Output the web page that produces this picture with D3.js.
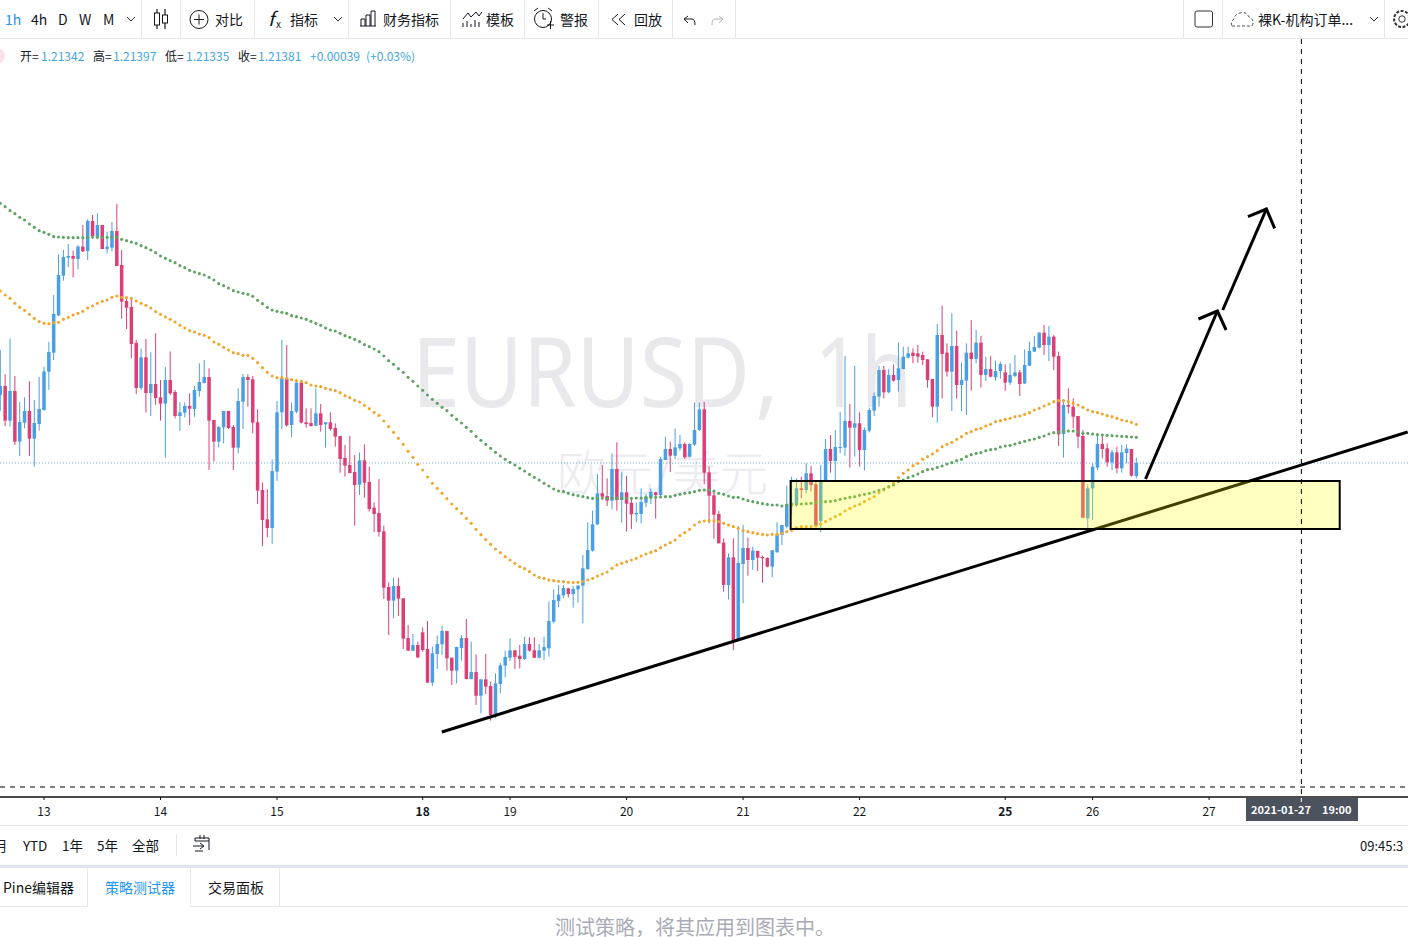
<!DOCTYPE html>
<html><head><meta charset="utf-8">
<script src="https://cdn.jsdelivr.net/npm/d3@7"></script>
<style>
html,body{margin:0;padding:0;background:#fff;overflow:hidden}
svg{display:block}
text{font-family:"Noto Sans CJK SC","Noto Sans",sans-serif}
</style></head><body>
<svg id="c" width="1408" height="937"></svg>
<script>
// Candle rows are [open, high, low, close] in points above 1.20000 (1 point = 0.00001).
const basePrice = 1.2, pointSize = 0.00001;
const jan12 = [[1585,1720,1538,1612],[1612,1647,1492,1508],[1508,1755,1490,1597],[1597,1642,1435,1445],[1445,1564,1402,1504],[1502,1578,1485,1537],[1537,1626,1402,1454],[1454,1570,1370,1501],[1498,1639,1478,1543]];
const jan13 = [[1540,1670,1538,1656],[1655,1744,1600,1714],[1712,1885,1690,1828],[1824,2007,1822,1945],[1943,2020,1928,1999],[1997,2038,1968,2002],[2002,2018,1938,1994],[1993,2035,1962,2030],[2030,2095,2014,2016],[2017,2112,1990,2107],[2107,2125,2054,2062],[2060,2130,2055,2095],[2095,2095,2023,2023],[2023,2075,2010,2030],[2027,2104,2016,2077],[2077,2158,1972,1972],[1975,2020,1814,1865],[1867,1880,1783,1847],[1849,1875,1695,1738],[1741,1750,1588,1606],[1606,1725,1600,1698],[1698,1753,1532,1591],[1591,1713,1522,1618],[1618,1770,1555,1576]];
const jan14 = [[1578,1630,1508,1559],[1559,1669,1397,1630],[1630,1716,1585,1590],[1594,1600,1515,1522],[1522,1563,1478,1533],[1532,1563,1518,1552],[1552,1590,1495,1544],[1543,1612,1520,1600],[1597,1680,1580,1624],[1621,1690,1620,1639],[1639,1665,1360,1508],[1510,1510,1385,1445],[1445,1492,1428,1489],[1488,1537,1440,1537],[1537,1537,1483,1486],[1489,1495,1360,1427],[1427,1605,1410,1567],[1565,1648,1483,1639],[1639,1647,1550,1630],[1632,1642,1470,1502],[1503,1542,1258,1298],[1300,1322,1132,1210],[1212,1302,1158,1186],[1186,1392,1138,1357]];
const jan15 = [[1355,1567,1327,1533],[1533,1750,1483,1635],[1635,1735,1490,1494],[1495,1562,1458,1537],[1535,1630,1530,1622],[1622,1630,1500,1502],[1503,1545,1487,1498],[1501,1545,1490,1492],[1493,1605,1492,1530],[1530,1558,1475,1495],[1497,1503,1427,1503],[1503,1533,1478,1483],[1486,1500,1430,1460],[1462,1462,1352,1393],[1396,1435,1340,1373],[1375,1462,1350,1351],[1354,1405,1193,1315],[1316,1413,1285,1389],[1389,1437,1277,1322],[1324,1370,1235,1243],[1247,1263,1174,1228],[1231,1333,1160,1174],[1176,1193,973,1007],[1009,1023,865,968],[968,1037,915,1012],[1012,1037,922,974],[975,975,823,854],[856,895,817,818],[818,868,817,835],[835,845,795,798]];
const jan18 = [[873,888,815,820],[823,907,722,722],[722,830,712,810],[808,863,763,838],[837,892,805,877],[877,877,758,795],[797,797,715,758],[758,830,720,829],[826,865,788,856],[856,913,732,733],[733,845,732,754],[754,807,655,683],[683,732,630,732],[732,808,688,710],[712,725,608,625],[627,750,615,720],[718,782,690,774],[773,818,738,799]];
const jan19 = [[797,855,787,819],[819,820,763,799],[803,835,765,793],[793,860,790,838],[838,858,815,818],[819,858,795,797],[797,838,795,819],[818,860,790,829],[825,965,800,907],[905,1002,900,970],[967,1015,948,986],[984,1015,975,1006],[1005,1005,978,988],[988,1012,947,1003],[1002,1015,962,1013],[1013,1105,900,1065],[1063,1203,1060,1120],[1118,1238,1115,1197],[1197,1348,1195,1290],[1290,1375,1270,1280],[1282,1335,1252,1268],[1268,1410,1242,1363],[1363,1443,1238,1270],[1270,1353,1202,1293]];
const jan20 = [[1293,1342,1175,1259],[1262,1275,1183,1227],[1227,1262,1203,1231],[1228,1305,1200,1264],[1262,1288,1248,1280],[1278,1305,1258,1295],[1293,1295,1214,1285],[1285,1400,1280,1393],[1390,1460,1390,1423],[1423,1445,1354,1403],[1403,1485,1393,1428],[1425,1465,1418,1438],[1438,1443,1393,1398],[1400,1440,1397,1438],[1436,1562,1432,1480],[1480,1562,1477,1542],[1542,1564,1317,1352],[1353,1370,1200,1283],[1284,1295,1154,1226],[1228,1237,1140,1140],[1142,1155,995,1015],[1015,1110,972,1098],[1098,1155,820,850],[850,1192,850,1081]];
const jan21 = [[1078,1195,960,1126],[1126,1157,1043,1090],[1090,1130,1060,1118],[1117,1118,1057,1097],[1099,1103,1022,1095],[1096,1098,1068,1070],[1070,1120,1038,1119],[1113,1203,1112,1167],[1165,1195,1135,1195],[1190,1313,1185,1257],[1257,1340,1225,1262],[1258,1335,1250,1305],[1305,1340,1275,1300],[1300,1380,1290,1350],[1350,1372,1295,1315],[1317,1330,1190,1192],[1207,1375,1173,1325],[1325,1453,1325,1423],[1423,1465,1352,1387],[1387,1480,1325,1429],[1427,1535,1410,1429],[1427,1702,1403,1507],[1507,1558,1367,1487],[1487,1672,1400,1500]];
const jan22 = [[1500,1533,1370,1420],[1420,1488,1358,1480],[1478,1547,1473,1540],[1538,1593,1522,1582],[1580,1672,1550,1660],[1660,1672,1575,1593],[1593,1663,1590,1645],[1645,1677,1625,1628],[1630,1742,1595,1665],[1663,1730,1662,1700],[1697,1730,1695,1710],[1712,1725,1680,1702],[1710,1735,1682,1700],[1705,1715,1675,1690],[1692,1692,1607,1630],[1633,1633,1518,1550],[1550,1798,1502,1765],[1765,1853,1575,1708],[1712,1740,1640,1655],[1655,1830,1537,1732],[1732,1778,1574,1615],[1615,1683,1537,1630],[1628,1740,1525,1712],[1712,1810,1598,1693],[1693,1780,1680,1742],[1742,1762,1607,1645],[1645,1700,1627,1663],[1663,1702,1638,1640],[1638,1688,1628,1657],[1657,1685,1634,1678]];
const jan25 = [[1653,1677,1598,1622],[1622,1680,1615,1645],[1642,1705,1638,1653],[1653,1660,1582,1618],[1620,1722,1618,1675],[1673,1745,1672,1717],[1715,1762,1715,1729],[1727,1773,1725,1772],[1772,1795,1705,1735],[1735,1792,1687,1760],[1760,1765,1660,1700],[1702,1715,1432,1467],[1468,1572,1397,1555],[1555,1605,1530,1550],[1550,1575,1485,1520],[1522,1522,1425,1460],[1462,1480,1215,1217],[1215,1317,1180,1305]];
const jan26 = [[1305,1380,1210,1370],[1367,1470,1360,1438],[1438,1467,1395,1423],[1425,1440,1370,1383],[1383,1420,1360,1413],[1413,1430,1350,1365],[1365,1435,1352,1413],[1411,1437,1380,1424],[1423,1423,1340,1343],[1342,1397,1335,1381]];
const sessions = [jan12,jan13,jan14,jan15,jan18,jan19,jan20,jan21,jan22,jan25,jan26];

const slowMA = [2160,2150,2138,2129,2118,2110,2098,2088,2078,2073,2067,2060,2059,2058,2057,2057,2057,2057,2057,2059,2058,2058,2058,2058,2058,2052,2048,2044,2040,2033,2027,2020,2012,2002,1995,1988,1982,1973,1967,1959,1954,1949,1945,1938,1930,1919,1913,1906,1898,1894,1890,1887,1881,1869,1859,1848,1840,1836,1833,1830,1823,1820,1816,1812,1806,1800,1794,1786,1780,1777,1770,1763,1758,1752,1745,1736,1730,1723,1715,1702,1688,1677,1664,1653,1638,1626,1612,1599,1585,1572,1560,1548,1538,1524,1512,1501,1488,1476,1461,1449,1437,1425,1413,1402,1392,1383,1375,1365,1357,1347,1338,1330,1320,1312,1303,1297,1295,1290,1286,1283,1280,1277,1275,1275,1276,1275,1275,1275,1275,1275,1275,1276,1276,1277,1278,1278,1279,1280,1280,1284,1287,1290,1292,1295,1299,1300,1300,1297,1290,1287,1282,1278,1278,1273,1268,1265,1262,1259,1257,1255,1255,1252,1255,1255,1257,1258,1259,1260,1263,1265,1265,1266,1268,1272,1275,1278,1280,1284,1287,1290,1294,1299,1303,1309,1315,1325,1330,1337,1342,1348,1355,1361,1363,1368,1372,1378,1382,1388,1392,1400,1406,1410,1412,1418,1421,1423,1429,1432,1434,1438,1442,1446,1450,1453,1458,1462,1468,1472,1474,1476,1477,1477,1474,1470,1470,1468,1466,1465,1464,1463,1462,1461,1460,1459,1458];
const fastMA = [1897,1885,1875,1860,1848,1839,1827,1815,1805,1800,1799,1802,1803,1812,1818,1825,1830,1836,1846,1852,1860,1866,1870,1878,1882,1878,1877,1875,1867,1860,1854,1846,1835,1827,1819,1812,1804,1794,1786,1778,1774,1768,1764,1757,1744,1737,1728,1720,1712,1709,1704,1704,1695,1682,1667,1653,1642,1637,1637,1635,1631,1628,1626,1622,1615,1612,1610,1605,1601,1598,1592,1583,1577,1569,1564,1554,1544,1533,1524,1507,1490,1473,1455,1437,1416,1398,1377,1360,1339,1320,1305,1290,1274,1258,1244,1230,1215,1200,1182,1166,1151,1137,1123,1112,1100,1090,1080,1070,1064,1055,1045,1038,1035,1030,1028,1026,1025,1023,1022,1023,1025,1030,1035,1042,1048,1054,1065,1075,1080,1085,1090,1095,1102,1108,1113,1118,1127,1135,1142,1150,1163,1172,1182,1195,1204,1207,1208,1208,1205,1200,1195,1190,1185,1178,1175,1172,1169,1167,1165,1167,1167,1170,1175,1179,1187,1190,1190,1190,1192,1198,1205,1213,1220,1227,1237,1245,1252,1257,1265,1273,1280,1292,1300,1310,1320,1337,1350,1360,1373,1380,1392,1400,1408,1418,1430,1437,1443,1452,1460,1470,1475,1482,1485,1492,1497,1505,1508,1512,1515,1520,1522,1527,1532,1540,1545,1552,1558,1565,1568,1568,1565,1560,1555,1548,1540,1535,1532,1528,1523,1520,1515,1510,1507,1503,1497];

const dayTickBars = [9,33,57,87,105,129,153,177,207,225,249];
const dayTickLabels = ["13","14","15","18","19","20","21","22","25","26","27"];
const boldDayLabels = ["18","25"];

// Drawings, as [bar index, points] pairs.
const trendLine = [[90.95,574],[289.9,1474]];
const zoneBox = [[162.8,1327],[275.9,1183]];
const arrowOne = [[235.9,1333],[250.7,1837]];
const arrowOneHead = [[246.8,1813],[250.7,1837],[252.5,1780]];
const arrowTwo = [[251.8,1840],[260.8,2143]];
const arrowTwoHead = [[257,2120],[260.8,2143],[262.5,2085]];
const crosshair = [268,409];
const lastClose = 1381;

const toolbarLabels = [["1h",5,"#2196f3"],["4h",31],["D",58],["W",79],["M",103],["对比",215],["指标",290],["财务指标",383],["模板",486],["警报",560],["回放",634]];
const legendItems = [["开=",20,0],["1.21342",41,1],["高=",93,0],["1.21397",113,1],["低=",165,0],["1.21335",186,1],["收=",238,0],["1.21381",258,1],["+0.00039",310,1],["(+0.03%)",366,1]];
const rangeLabels = [["月",-6],["YTD",23],["1年",62],["5年",97],["全部",132]];

const candles = sessions.flat();
const svg = d3.select("#c");
const x = d3.scaleLinear().domain([0,234]).range([0.3,1136.3]);
const y = d3.scaleLinear().domain([basePrice, basePrice+2770*pointSize]).range([923.33,0]);
const py = v => y(basePrice + v*pointSize);
const line = d3.line().x(d=>x(d[0])).y(d=>py(d[1]));

const BLUE="#4a9fe3", PINK="#dc3f78", INK="#131722", SEP="#e6e8ee";

// ---- chart area
const chart = svg.append("g");
const wm = (s,xx,len)=>{
  const t = chart.append("text").attr("font-size",97).attr("fill","#e8e8ed")
    .style("font-family","'Noto Sans',sans-serif").text(s);
  const natural = t.node().getComputedTextLength();
  t.attr("transform",`translate(${xx},407) scale(${len/natural},1)`);
};
wm("EURUSD",412,338);
wm(",",755,24);
wm("1h",814,98);
chart.append("text").attr("x",557).attr("y",491).attr("font-size",48).attr("font-weight",300).attr("fill","#ebebf0").text("欧元/美元");

chart.append("line").attr("x1",0).attr("x2",1408).attr("y1",py(lastClose)).attr("y2",py(lastClose))
  .attr("stroke","#4a9fe3").attr("stroke-width",1).attr("stroke-dasharray","1 2").attr("opacity",.85);

const bars = chart.append("g").selectAll("g").data(candles).join("g");
bars.append("line").attr("x1",(d,i)=>x(i)).attr("x2",(d,i)=>x(i)).attr("y1",d=>py(d[1])).attr("y2",d=>py(d[2]))
  .attr("stroke",d=>d[3]>=d[0]?BLUE:PINK).attr("stroke-width",1);
bars.append("rect").attr("x",(d,i)=>x(i)-1.75).attr("width",3.5)
  .attr("y",d=>py(Math.max(d[0],d[3]))).attr("height",d=>Math.max(1,Math.abs(py(d[0])-py(d[3]))))
  .attr("fill",d=>d[3]>=d[0]?BLUE:PINK);

[[fastMA,"#f2a52c"],[slowMA,"#5fa463"]].forEach(([s,col])=>{
  chart.append("g").selectAll("circle").data(s).join("circle")
    .attr("cx",(d,i)=>x(i)).attr("cy",d=>py(d)).attr("r",1.55).attr("fill",col);
});

chart.append("path").attr("d",line(trendLine)).attr("stroke","#000").attr("stroke-width",3).attr("fill","none");
chart.append("rect").attr("x",x(zoneBox[0][0])).attr("y",py(zoneBox[0][1]))
  .attr("width",x(zoneBox[1][0])-x(zoneBox[0][0])).attr("height",py(zoneBox[1][1])-py(zoneBox[0][1]))
  .attr("fill","#ffff00").attr("fill-opacity",.25).attr("stroke","#000").attr("stroke-width",2);
[arrowOne,arrowOneHead,arrowTwo,arrowTwoHead].forEach(a=>{
  chart.append("path").attr("d",line(a)).attr("stroke","#000").attr("stroke-width",3).attr("fill","none").attr("stroke-linejoin","miter");
});

// crosshair
chart.append("line").attr("x1",0).attr("x2",1408).attr("y1",py(crosshair[1])).attr("y2",py(crosshair[1]))
  .attr("stroke","#000").attr("stroke-dasharray","5 5");
chart.append("line").attr("x1",x(crosshair[0])).attr("x2",x(crosshair[0])).attr("y1",39).attr("y2",797)
  .attr("stroke","#000").attr("stroke-dasharray","5 5");

// ---- time axis
const axis = d3.axisBottom(x).tickValues(dayTickBars).tickFormat((d,i)=>dayTickLabels[i]).tickSizeOuter(0).tickSize(3).tickPadding(7).offset(0);
const ax = svg.append("g").attr("transform","translate(0,797)").call(axis);
ax.select(".domain").remove();
ax.selectAll(".tick line").attr("stroke","#131722");
ax.selectAll(".tick text").attr("fill",INK).style("font-size","12px")
  .style("font-weight",d=>boldDayLabels.includes(dayTickLabels[dayTickBars.indexOf(d)])?"700":"400");
svg.append("line").attr("x1",0).attr("x2",1408).attr("y1",797).attr("y2",797).attr("stroke","#111").attr("stroke-width",1.4);
svg.append("rect").attr("x",1246).attr("y",798).attr("width",112).attr("height",23).attr("fill","#4c525e");
svg.append("line").attr("x1",x(crosshair[0])).attr("x2",x(crosshair[0])).attr("y1",798).attr("y2",802).attr("stroke","#fff");
svg.append("text").attr("x",1251).attr("y",814).attr("font-size",11).attr("font-weight",700).attr("fill","#fff").text("2021-01-27");
svg.append("text").attr("x",1322).attr("y",814).attr("font-size",11).attr("font-weight",700).attr("fill","#fff").text("19:00");

// ---- UI chrome
const ui = svg.append("g");
const hl=(yy,c,w,x1=0,x2=1408)=>ui.append("line").attr("x1",x1).attr("x2",x2).attr("y1",yy).attr("y2",yy).attr("stroke",c).attr("stroke-width",w||1);
const vl=(xx,y1,y2,c)=>ui.append("line").attr("x1",xx).attr("x2",xx).attr("y1",y1).attr("y2",y2).attr("stroke",c||SEP);
const tx=(s,xx,yy,fs,c,anchor)=>ui.append("text").attr("x",xx).attr("y",yy).attr("font-size",fs||14).attr("fill",c||INK).attr("text-anchor",anchor||"start").text(s);
const p=(d,c,w,f)=>ui.append("path").attr("d",d).attr("stroke",c||INK).attr("stroke-width",w||1).attr("fill",f||"none");

hl(38.5,SEP);
[141.5,180.5,254.5,348.5,450.5,524.5,598.5,672.5,735.5,1183.5,1222.5,1384.5].forEach(v=>vl(v,0,38));
toolbarLabels.forEach(([s,xx,c])=>tx(s,xx,24.5,14,c||INK));
// chevrons
[[131,19],[338,19],[1374,19]].forEach(([a,b])=>p(`M${a-4} ${b-2}l4 4l4 -4`,"#333",1));
// candle icon
p("M157 9v20M165 9v20",INK,1.2);ui.append("rect").attr("x",154.5).attr("y",13).attr("width",5).attr("height",12).attr("fill","#fff").attr("stroke",INK);
ui.append("rect").attr("x",162.5).attr("y",15).attr("width",5).attr("height",8).attr("fill","#fff").attr("stroke",INK);
// compare
ui.append("circle").attr("cx",199).attr("cy",19.5).attr("r",9).attr("fill","none").attr("stroke",INK);
p("M194 19.5h10M199 14.5v10",INK);
// fx
tx("f",268,26,19,INK).style("font-style","italic");tx("x",276,28,10,INK);
// bars icon
p("M360 26h16M361 26v-7h4v7M366 26v-11h4v11M371 26v-15h4v15",INK);
// template
p("M463 19l5 -6l3 4l5 -5l3 4l3 -4",INK);p("M463 27v-4M467 27v-6M471 27v-3M475 27v-7M479 27v-5",INK);
// alarm
ui.append("circle").attr("cx",543).attr("cy",19).attr("r",8.5).attr("fill","none").attr("stroke",INK);
p("M534 11l4 -3M548 8l4 3M543 13v6h3M547 25h7M550.5 21v8",INK);
// replay
p("M618 14l-6 5.5l6 5.5M625 14l-6 5.5l6 5.5",INK);
// undo / redo
p("M684 19l4 -3M684 19l4 4M684 19h8q3 0 3 6",INK);
p("M723 19l-4 -3M723 19l-4 4M723 19h-8q-3 0 -3 6","#b2b5be");
// square
ui.append("rect").attr("x",1195).attr("y",11).attr("width",17.5).attr("height",16).attr("rx",2).attr("fill","none").attr("stroke","#333");
// cloud
p("M1232 26h20q3 -6 -3 -9q-3 -6 -9 -4q-5 1 -6 6q-4 3 -2 7","#555",1).attr("stroke-dasharray","3 2");
tx("裸K-机构订单...",1258,24.5,14);
// gear
ui.append("circle").attr("cx",1402).attr("cy",19).attr("r",8).attr("fill","none").attr("stroke","#333").attr("stroke-dasharray","3 1.5").attr("stroke-width",2);
ui.append("circle").attr("cx",1402).attr("cy",19).attr("r",3.2).attr("fill","none").attr("stroke","#333");

// OHLC legend
ui.append("circle").attr("cx",-3).attr("cy",56).attr("r",8).attr("fill","#fbe0e8");
legendItems.forEach(([s,xx,v])=>tx(s,xx,60.5,12,v?"#44a5e2":INK));

// range bar
hl(825.5,SEP);
rangeLabels.forEach(([s,xx])=>tx(s,xx,850.5,13.5));
vl(176.5,834,856);
p("M195 838h14v12M195 838v3h14M200 835v4M204 835v4M193 846h11M200 843l4 3l-4 3M195 851h8",INK);
tx("09:45:3",1360,850.5,13);

// bottom tabs
ui.append("rect").attr("x",0).attr("y",865).attr("width",1408).attr("height",3).attr("fill","#e0e3eb");
hl(906.5,SEP,1,0,87);hl(906.5,SEP,1,190,1408);
vl(87.5,868,907);vl(190.5,868,907);vl(279.5,868,907);
tx("Pine编辑器",3,892.5,14);
tx("策略测试器",105,892.5,14,"#2196f3");
tx("交易面板",208,892.5,14);
tx("测试策略，将其应用到图表中。",555,934.5,20,"#a9acb5");
</script>
</body></html>
